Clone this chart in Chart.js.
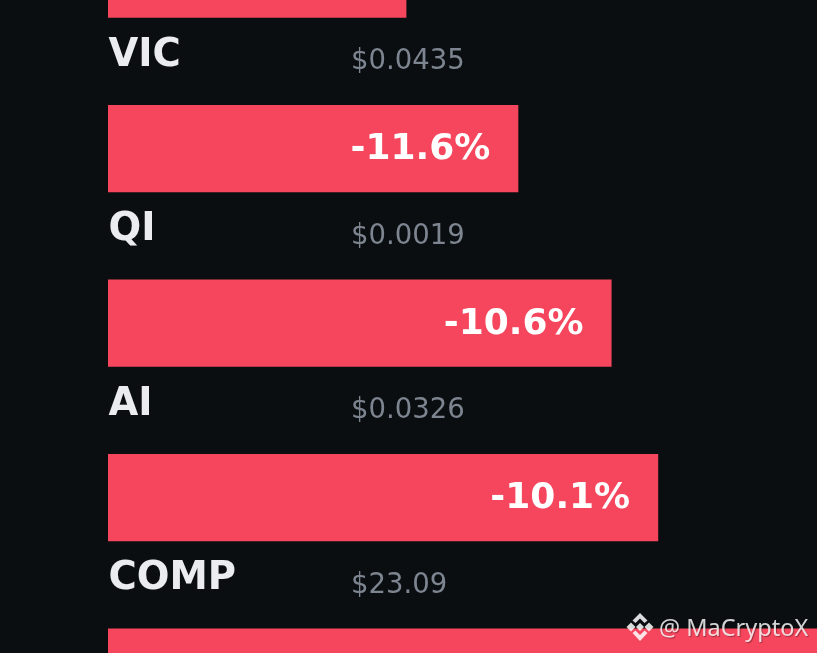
<!DOCTYPE html>
<html>
<head>
<meta charset="utf-8">
<title>Top losers</title>
<script src="https://cdn.jsdelivr.net/npm/chart.js@4"></script>
<style>
html, body { margin: 0; padding: 0; width: 817px; height: 653px; overflow: hidden; background: #0b0e11; }
#myChart { position: absolute; left: 0; top: -120px; }
#mark { position: absolute; left: 626px; top: 612px; height: 30px; display: flex; align-items: center; color: rgba(255,255,255,0.82); font: 23.5px "Noto Sans", sans-serif; text-shadow: 1px 1px 1px rgba(0,0,0,0.35); white-space: nowrap; }
#mark svg { margin-right: 5px; }
</style>
</head>
<body>
<canvas id="myChart" width="817" height="880"></canvas>
<div id="mark">
  <svg width="28" height="28" viewBox="0 0 28 28" fill="rgba(255,255,255,0.85)">
    <polygon points="14,0 21.5,7.5 18.5,10 14,5.5 9.5,10 6.5,7.5"/>
    <polygon points="5,9.5 9.5,14 5,18.5 0.5,14"/>
    <polygon points="23,9.5 27.5,14 23,18.5 18.5,14"/>
    <polygon points="14,10 18,14 14,18 10,14"/>
    <polygon points="6.5,20 9.5,17.5 14,22 18.5,17.5 21.5,20 14,28"/>
  </svg>@ MaCryptoX
</div>
<script>
const names = ['', 'VIC', 'QI', 'AI', 'COMP'];
const prices = ['', '$0.0435', '$0.0019', '$0.0326', '$23.09'];
const changes = [-12.8, -11.6, -10.6, -10.1, -8.2];
const changeLabels = ['-12.8%', '-11.6%', '-10.6%', '-10.1%', '-8.2%'];

// draws the token name + price above each bar and the % inside the bar end
const rowLabels = {
    id: 'rowLabels',
    afterDatasetsDraw(chart) {
        const ctx = chart.ctx;
        const bars = chart.getDatasetMeta(0).data;
        ctx.save();
        ctx.textBaseline = 'alphabetic';
        bars.forEach((bar, i) => {
            ctx.textAlign = 'left';
            ctx.fillStyle = '#eaecef';
            ctx.font = 'bold 38.5px "DejaVu Sans"';
            ctx.fillText(names[i], 108.5, bar.y - 83);
            ctx.fillStyle = '#7d8590';
            ctx.font = '27.5px "DejaVu Sans"';
            ctx.fillText(prices[i], 351, bar.y - 79.5);

            ctx.textAlign = 'right';
            ctx.fillStyle = '#ffffff';
            ctx.font = 'bold 36px "DejaVu Sans"';
            ctx.fillText(changeLabels[i], bar.x - 28, bar.y + 10.5);
        });
        ctx.restore();
    }
};

document.addEventListener('DOMContentLoaded', () => {
    const ctx = document.getElementById('myChart').getContext('2d');
    new Chart(ctx, {
        type: 'bar',
        data: {
            labels: names,
            datasets: [{
                data: changes,
                base: -16,
                backgroundColor: '#f6465d',
                borderWidth: 0,
                barPercentage: 0.5,
                categoryPercentage: 1
            }]
        },
        options: {
            indexAxis: 'y',
            responsive: false,
            animation: false,
            layout: { padding: { left: 108, right: 0, top: 6.75, bottom: 0.75 } },
            plugins: { legend: { display: false }, tooltip: { enabled: false } },
            scales: {
                x: { display: false, min: -16, max: -8.397 },
                y: { display: false }
            }
        },
        plugins: [rowLabels]
    });
});
</script>
</body>
</html>
